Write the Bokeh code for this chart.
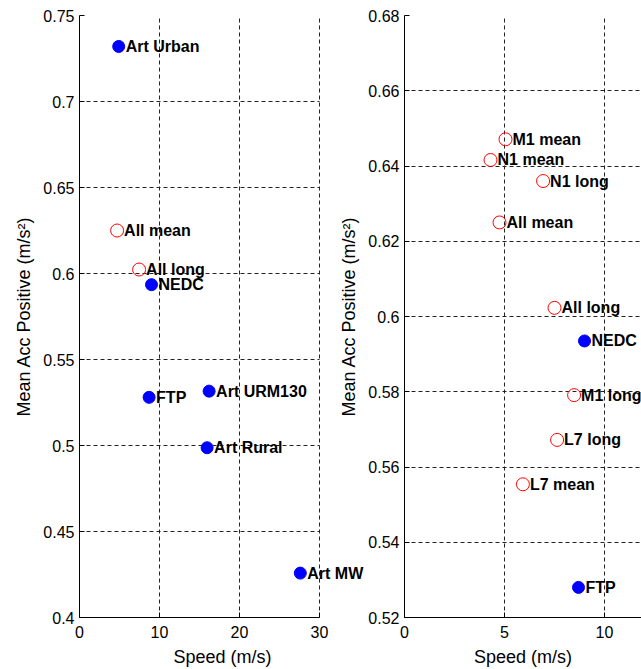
from bokeh.plotting import figure
from bokeh.models import ColumnDataSource, LabelSet, Range1d, FixedTicker
from bokeh.layouts import row
from bokeh.core.properties import value
from bokeh.embed import file_html
from bokeh.resources import INLINE

# ---------------- data ----------------
# Left panel: driving cycles (filled blue) and averages (open red)
left_cycle_names = ["Art Urban", "NEDC", "FTP", "Art URM130", "Art Rural", "Art MW"]
left_cycle_speed = [4.9, 9.0, 8.7, 16.2, 15.95, 27.6]
left_cycle_acc = [0.732, 0.5935, 0.528, 0.5316, 0.4987, 0.4258]

left_avg_names = ["All mean", "All long"]
left_avg_speed = [4.7, 7.45]
left_avg_acc = [0.625, 0.6023]

# Right panel
right_cycle_names = ["NEDC", "FTP"]
right_cycle_speed = [9.0, 8.7]
right_cycle_acc = [0.5935, 0.528]

right_avg_names = ["M1 mean", "N1 mean", "N1 long", "All mean", "All long",
                   "M1 long", "L7 long", "L7 mean"]
right_avg_speed = [5.05, 4.3, 6.93, 4.75, 7.5, 8.48, 7.63, 5.92]
right_avg_acc = [0.6471, 0.6416, 0.636, 0.625, 0.6023, 0.5791, 0.5672, 0.5554]

left_xlim = (0, 30)
left_ylim = (0.4, 0.75)
left_xticks = [0, 10, 20, 30]
left_xtick_labels = ["0", "10", "20", "30"]
left_yticks = [0.4, 0.45, 0.5, 0.55, 0.6, 0.65, 0.7, 0.75]
left_ytick_labels = ["0.4", "0.45", "0.5", "0.55", "0.6", "0.65", "0.7", "0.75"]

right_xlim = (0, 15)
right_ylim = (0.52, 0.68)
right_xticks = [0, 5, 10, 15]
right_xtick_labels = ["0", "5", "10", "15"]
right_yticks = [0.52, 0.54, 0.56, 0.58, 0.6, 0.62, 0.64, 0.66, 0.68]
right_ytick_labels = ["0.52", "0.54", "0.56", "0.58", "0.6", "0.62", "0.64", "0.66", "0.68"]

x_label = "Speed (m/s)"
y_label = "Mean Acc Positive (m/s²)"

FONT = "Liberation Sans"


def make_panel(xlim, view_xmax, ylim, xticks, xlabels, yticks, ylabels,
               cyc_names, cyc_x, cyc_y, avg_names, avg_x, avg_y,
               frame_width, border_left):
    # the visible frame may run past the axes' limit (text is not cut at the axes)
    p = figure(x_range=Range1d(xlim[0], view_xmax), y_range=Range1d(*ylim),
               frame_width=frame_width, frame_height=602,
               min_border_left=border_left, min_border_right=0,
               min_border_top=15, min_border_bottom=52,
               output_backend="svg", toolbar_location=None)
    p.outline_line_color = None
    p.background_fill_color = "white"
    p.border_fill_color = "white"

    p.xaxis.ticker = FixedTicker(ticks=xticks)
    p.yaxis.ticker = FixedTicker(ticks=yticks)
    p.xaxis.major_label_overrides = {t: s for t, s in zip(xticks, xlabels)}
    p.yaxis.major_label_overrides = {t: s for t, s in zip(yticks, ylabels)}
    p.xaxis.bounds = xlim

    for ax in (p.xaxis[0], p.yaxis[0]):
        ax.axis_line_color = "black"
        ax.axis_line_width = 1
        ax.major_tick_in = 5
        ax.major_tick_out = 0
        ax.major_tick_line_color = "black"
        ax.minor_tick_line_color = None
        ax.major_label_text_font = FONT
        ax.major_label_text_font_size = "16px"
        ax.major_label_text_color = "black"
        ax.axis_label_text_font = FONT
        ax.axis_label_text_font_size = "18px"
        ax.axis_label_text_font_style = "normal"
        ax.axis_label_text_color = "black"

    p.xaxis.axis_label = x_label
    p.yaxis.axis_label = y_label
    p.xaxis.major_label_standoff = 8
    p.xaxis.axis_label_standoff = 6
    p.yaxis.major_label_standoff = 5
    p.yaxis.axis_label_standoff = 6

    for g in (p.xgrid[0], p.ygrid[0]):
        g.grid_line_color = "#222222"
        g.grid_line_dash = "4 3"
        g.grid_line_width = 1
    p.ygrid[0].cross_bounds = xlim

    cyc = ColumnDataSource(dict(x=cyc_x, y=cyc_y, name=cyc_names))
    avg = ColumnDataSource(dict(x=avg_x, y=avg_y, name=avg_names))

    p.scatter("x", "y", source=avg, size=13, marker="circle",
              fill_color=None, line_color="#ff0000", line_width=1)
    p.scatter("x", "y", source=cyc, size=12, marker="circle",
              fill_color="#0000ff", line_color="#0000ff")

    for src in (avg, cyc):
        labels = LabelSet(x="x", y="y", text="name", source=src,
                          x_offset=7, y_offset=0,
                          text_align="left", text_baseline="middle",
                          text_font=value(FONT), text_font_size="16px",
                          text_font_style="bold", text_color="black")
        p.add_layout(labels)
    return p


# left: axes 0..30 over 240 px, frame continues 46 px more for the "Art MW" text
p1 = make_panel(left_xlim, 30 * 286 / 240, left_ylim, left_xticks, left_xtick_labels,
                left_yticks, left_ytick_labels,
                left_cycle_names, left_cycle_speed, left_cycle_acc,
                left_avg_names, left_avg_speed, left_avg_acc,
                frame_width=286, border_left=79)

# right: only the part up to the window edge is visible (20 px per m/s)
p2 = make_panel(right_xlim, 237 / 20, right_ylim, right_xticks, right_xtick_labels,
                right_yticks, right_ytick_labels,
                right_cycle_names, right_cycle_speed, right_cycle_acc,
                right_avg_names, right_avg_speed, right_avg_acc,
                frame_width=237, border_left=75)
p2.border_fill_alpha = 0.0
p2.styles = {"margin-left": "-36px"}

layout = row(p1, p2)

with open("out.html", "w") as f:
    f.write(file_html(layout, INLINE))
